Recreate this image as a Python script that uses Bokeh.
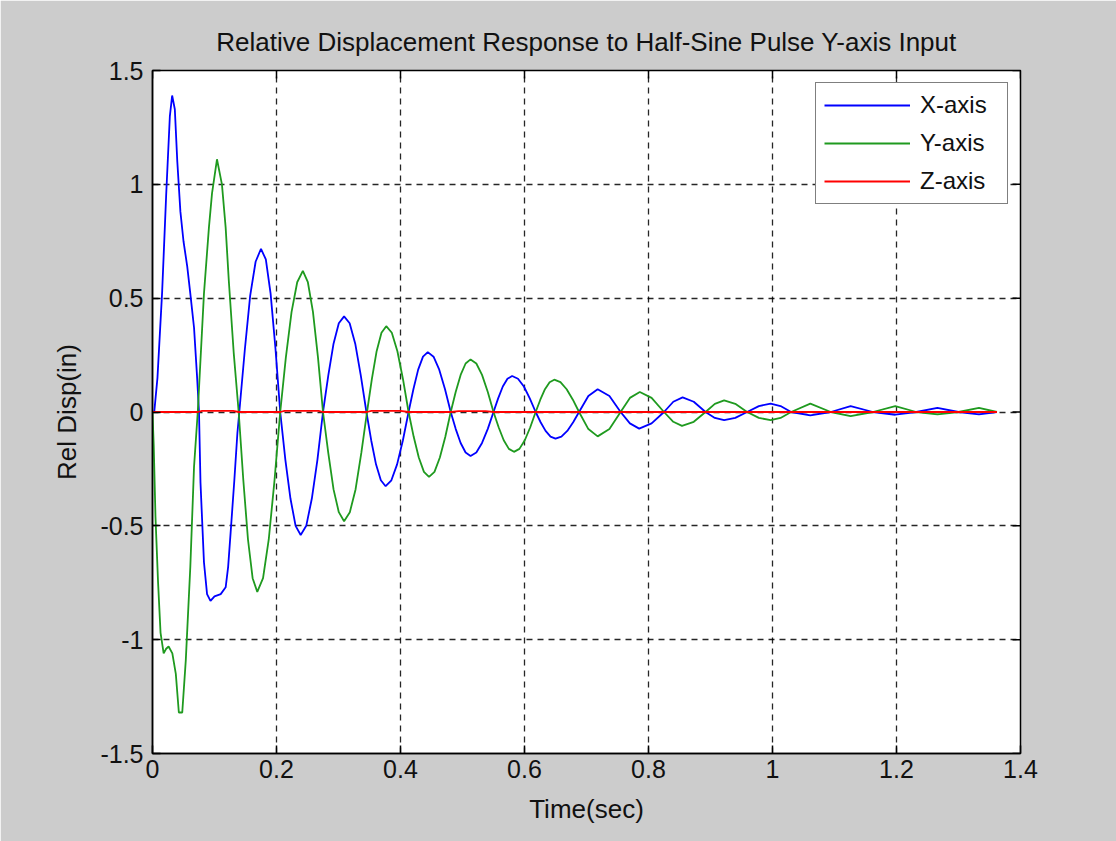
import math
from bokeh.plotting import figure
from bokeh.models import Range1d, FixedTicker, Legend, LegendItem
from bokeh.embed import file_html
from bokeh.resources import INLINE

# ---- data ----
time_x = [0.000, 0.003, 0.008, 0.0156, 0.022, 0.028, 0.0317, 0.036, 0.040, 0.045, 0.050, 0.056,
          0.061, 0.067, 0.072, 0.075, 0.0774, 0.083, 0.088, 0.0935, 0.100, 0.110, 0.118, 0.122,
          0.126, 0.132, 0.137, 0.140,
          0.1488, 0.1575, 0.1663, 0.175, 0.1828, 0.1905, 0.1983, 0.206,
          0.2143, 0.2225, 0.2308, 0.239, 0.248, 0.257, 0.266, 0.275,
          0.2835, 0.292, 0.3005, 0.309, 0.318, 0.327, 0.336, 0.345,
          0.3528, 0.3605, 0.3683, 0.376, 0.3853, 0.3945, 0.4038, 0.413,
          0.4208, 0.4285, 0.4363, 0.444, 0.4533, 0.4625, 0.4718, 0.481,
          0.489, 0.497, 0.505, 0.513, 0.5223, 0.5315, 0.5408, 0.550,
          0.5575, 0.565, 0.5725, 0.580, 0.5895, 0.599, 0.6085, 0.618,
          0.626, 0.634, 0.642, 0.650, 0.6595, 0.669, 0.6785, 0.688,
          0.703, 0.718, 0.737, 0.755, 0.770, 0.785, 0.805, 0.825, 0.840, 0.855, 0.873, 0.892,
          0.907, 0.922, 0.940, 0.959, 0.978, 0.997, 1.013, 1.030, 1.061, 1.094, 1.126, 1.162,
          1.198, 1.232, 1.266, 1.300, 1.333, 1.362]
disp_x = [0.000, 0.005, 0.15, 0.53, 0.95, 1.30, 1.39, 1.33, 1.10, 0.88, 0.75, 0.64,
          0.52, 0.37, 0.15, 0.00, -0.31, -0.66, -0.80, -0.83, -0.81, -0.80, -0.77, -0.68,
          -0.53, -0.30, -0.09, 0.00,
          0.27, 0.51, 0.66, 0.717, 0.67, 0.52, 0.28, 0.00,
          -0.21, -0.38, -0.50, -0.54, -0.50, -0.38, -0.21, 0.00,
          0.16, 0.30, 0.39, 0.42, 0.39, 0.30, 0.16, 0.00,
          -0.125, -0.23, -0.30, -0.326, -0.30, -0.23, -0.125, 0.00,
          0.10, 0.186, 0.243, 0.263, 0.243, 0.186, 0.10, 0.00,
          -0.074, -0.136, -0.178, -0.193, -0.178, -0.136, -0.074, 0.00,
          0.06, 0.112, 0.146, 0.158, 0.146, 0.112, 0.06, 0.00,
          -0.045, -0.083, -0.108, -0.117, -0.108, -0.083, -0.045, 0.00,
          0.07, 0.10, 0.07, 0.00, -0.05, -0.073, -0.05, 0.00, 0.045, 0.064, 0.045, 0.00,
          -0.026, -0.036, -0.026, 0.00, 0.026, 0.037, 0.026, 0.00, -0.015, 0.00, 0.026, 0.00,
          -0.012, 0.00, 0.018, 0.00, -0.010, 0.000]

time_y = [0.000, 0.002, 0.0048, 0.009, 0.013, 0.018, 0.022, 0.026, 0.032, 0.0376, 0.0425, 0.048,
          0.0537, 0.061, 0.067, 0.073, 0.083, 0.091, 0.096, 0.104, 0.112, 0.118, 0.123, 0.131,
          0.139,
          0.1465, 0.154, 0.1615, 0.169, 0.1783, 0.1875, 0.1968, 0.206,
          0.2151, 0.2243, 0.2334, 0.2425, 0.2506, 0.2588, 0.2669, 0.275,
          0.2835, 0.292, 0.3005, 0.309, 0.3183, 0.3275, 0.3368, 0.346,
          0.3538, 0.3615, 0.3693, 0.377, 0.386, 0.395, 0.404, 0.413,
          0.4213, 0.4295, 0.4378, 0.446, 0.4548, 0.4635, 0.4723, 0.481,
          0.489, 0.497, 0.505, 0.513, 0.5223, 0.5315, 0.5408, 0.550,
          0.5583, 0.5665, 0.5748, 0.583, 0.5918, 0.6005, 0.6093, 0.618,
          0.6255, 0.633, 0.6405, 0.648, 0.658, 0.668, 0.678, 0.688,
          0.703, 0.718, 0.737, 0.755, 0.770, 0.786, 0.805, 0.825, 0.840, 0.854, 0.873, 0.892,
          0.907, 0.922, 0.940, 0.959, 0.978, 0.997, 1.013, 1.030, 1.061, 1.094, 1.126, 1.162,
          1.198, 1.232, 1.266, 1.300, 1.333, 1.362]
disp_y = [0.00, -0.15, -0.46, -0.75, -0.97, -1.06, -1.04, -1.03, -1.06, -1.15, -1.32, -1.32,
          -1.09, -0.68, -0.24, 0.00, 0.52, 0.81, 0.96, 1.11, 1.00, 0.81, 0.58, 0.26,
          0.00,
          -0.30, -0.56, -0.73, -0.79, -0.73, -0.56, -0.30, 0.00,
          0.24, 0.44, 0.57, 0.62, 0.57, 0.44, 0.24, 0.00,
          -0.18, -0.34, -0.44, -0.48, -0.44, -0.34, -0.18, 0.00,
          0.144, 0.267, 0.348, 0.377, 0.348, 0.267, 0.144, 0.00,
          -0.109, -0.20, -0.263, -0.285, -0.263, -0.20, -0.109, 0.00,
          0.088, 0.163, 0.213, 0.231, 0.213, 0.163, 0.088, 0.00,
          -0.067, -0.124, -0.162, -0.175, -0.162, -0.124, -0.067, 0.00,
          0.054, 0.10, 0.131, 0.142, 0.131, 0.10, 0.054, 0.00,
          -0.075, -0.107, -0.075, 0.00, 0.062, 0.088, 0.062, 0.00, -0.043, -0.061, -0.043, 0.00,
          0.036, 0.051, 0.036, 0.00, -0.026, -0.036, -0.026, 0.00, 0.037, 0.00, -0.018, 0.00,
          0.026, 0.00, -0.010, 0.00, 0.018, 0.000]

time_z = [0.000, 0.073, 0.080, 0.130, 0.139, 0.206, 0.213, 0.268, 0.275, 0.346, 0.353, 0.400,
          0.413, 0.481, 0.494, 0.537, 0.550, 1.362]
disp_z = [0.000, 0.000, 0.005, 0.005, 0.000, 0.000, 0.005, 0.005, 0.000, 0.000, 0.005, 0.005,
          0.000, 0.000, 0.004, 0.004, 0.000, 0.000]

x_ticks = [0.0, 0.2, 0.4, 0.6, 0.8, 1.0, 1.2, 1.4]
x_tick_labels = ["0", "0.2", "0.4", "0.6", "0.8", "1", "1.2", "1.4"]
y_ticks = [-1.5, -1.0, -0.5, 0.0, 0.5, 1.0, 1.5]
y_tick_labels = ["-1.5", "-1", "-0.5", "0", "0.5", "1", "1.5"]

series_names = ["X-axis", "Y-axis", "Z-axis"]
series_colors = ["#0000ff", "#1f9a1f", "#ff0000"]

FONT = "Liberation Sans"
TICK_FS = "25px"
LABEL_FS = "26px"

x_lo, x_hi = 0.0, 1.4
y_lo, y_hi = -1.5, 1.5

p = figure(width=1116, height=841, output_backend="svg", toolbar_location=None,
           x_range=Range1d(x_lo, x_hi), y_range=Range1d(y_lo, y_hi),
           min_border_left=152, min_border_right=96, min_border_top=70, min_border_bottom=88,
           title="Relative Displacement Response to Half-Sine Pulse Y-axis Input")

p.border_fill_color = "#cccccc"
p.background_fill_color = "white"
p.outline_line_color = "black"
p.outline_line_width = 1.5

p.title.text_font = FONT
p.title.text_font_size = LABEL_FS
p.title.text_font_style = "normal"
p.title.align = "center"
p.title.text_color = "#111111"
p.title.standoff = 27

for ax, ticks, labels in [(p.xaxis[0], x_ticks, x_tick_labels), (p.yaxis[0], y_ticks, y_tick_labels)]:
    ax.ticker = FixedTicker(ticks=ticks)
    ax.major_label_overrides = {t: l for t, l in zip(ticks, labels)}
    ax.major_label_text_font = FONT
    ax.major_label_text_font_size = TICK_FS
    ax.major_label_text_color = "#111111"
    ax.major_tick_in = 8
    ax.major_tick_out = 0
    ax.minor_tick_line_color = None
    ax.axis_line_width = 1.5
    ax.major_tick_line_width = 1.5
    ax.axis_label_text_font = FONT
    ax.axis_label_text_font_size = LABEL_FS
    ax.axis_label_text_font_style = "normal"
    ax.axis_label_text_color = "#111111"

p.xaxis.axis_label = "Time(sec)"
p.yaxis.axis_label = "Rel Disp(in)"
p.xaxis.major_label_standoff = 6
p.xaxis.axis_label_standoff = 13
p.yaxis.major_label_standoff = 9
p.yaxis.axis_label_standoff = 15

for g in (p.xgrid[0], p.ygrid[0]):
    g.grid_line_color = "black"
    g.grid_line_alpha = 0.85
    g.grid_line_width = 1.3
    g.grid_line_dash = "6 5"
p.xgrid.ticker = FixedTicker(ticks=x_ticks)
p.ygrid.ticker = FixedTicker(ticks=y_ticks)

# inward tick marks on the top and right edges of the box
p.ray(x=x_ticks, y=[y_hi] * len(x_ticks), length=8, length_units="screen",
      angle=-math.pi / 2, line_color="black", line_width=1.5)
p.ray(x=[x_hi] * len(y_ticks), y=y_ticks, length=8, length_units="screen",
      angle=math.pi, line_color="black", line_width=1.5)

r1 = p.line(time_x, disp_x, line_color=series_colors[0], line_width=1.8)
r2 = p.line(time_y, disp_y, line_color=series_colors[1], line_width=1.8)
r3 = p.line(time_z, disp_z, line_color=series_colors[2], line_width=1.8)

legend = Legend(items=[LegendItem(label=series_names[0], renderers=[r1]),
                       LegendItem(label=series_names[1], renderers=[r2]),
                       LegendItem(label=series_names[2], renderers=[r3])],
                location="top_right")
legend.margin = 12
legend.padding = 8
legend.spacing = 10
legend.glyph_width = 86
legend.glyph_height = 28
legend.label_standoff = 10
legend.label_width = 79
legend.label_text_font = FONT
legend.label_text_font_size = "24px"
legend.label_text_color = "#111111"
legend.border_line_color = "black"
legend.border_line_width = 1.3
legend.background_fill_color = "white"
legend.background_fill_alpha = 1.0
p.add_layout(legend, "center")

open("out.html", "w").write(file_html(p, INLINE))
